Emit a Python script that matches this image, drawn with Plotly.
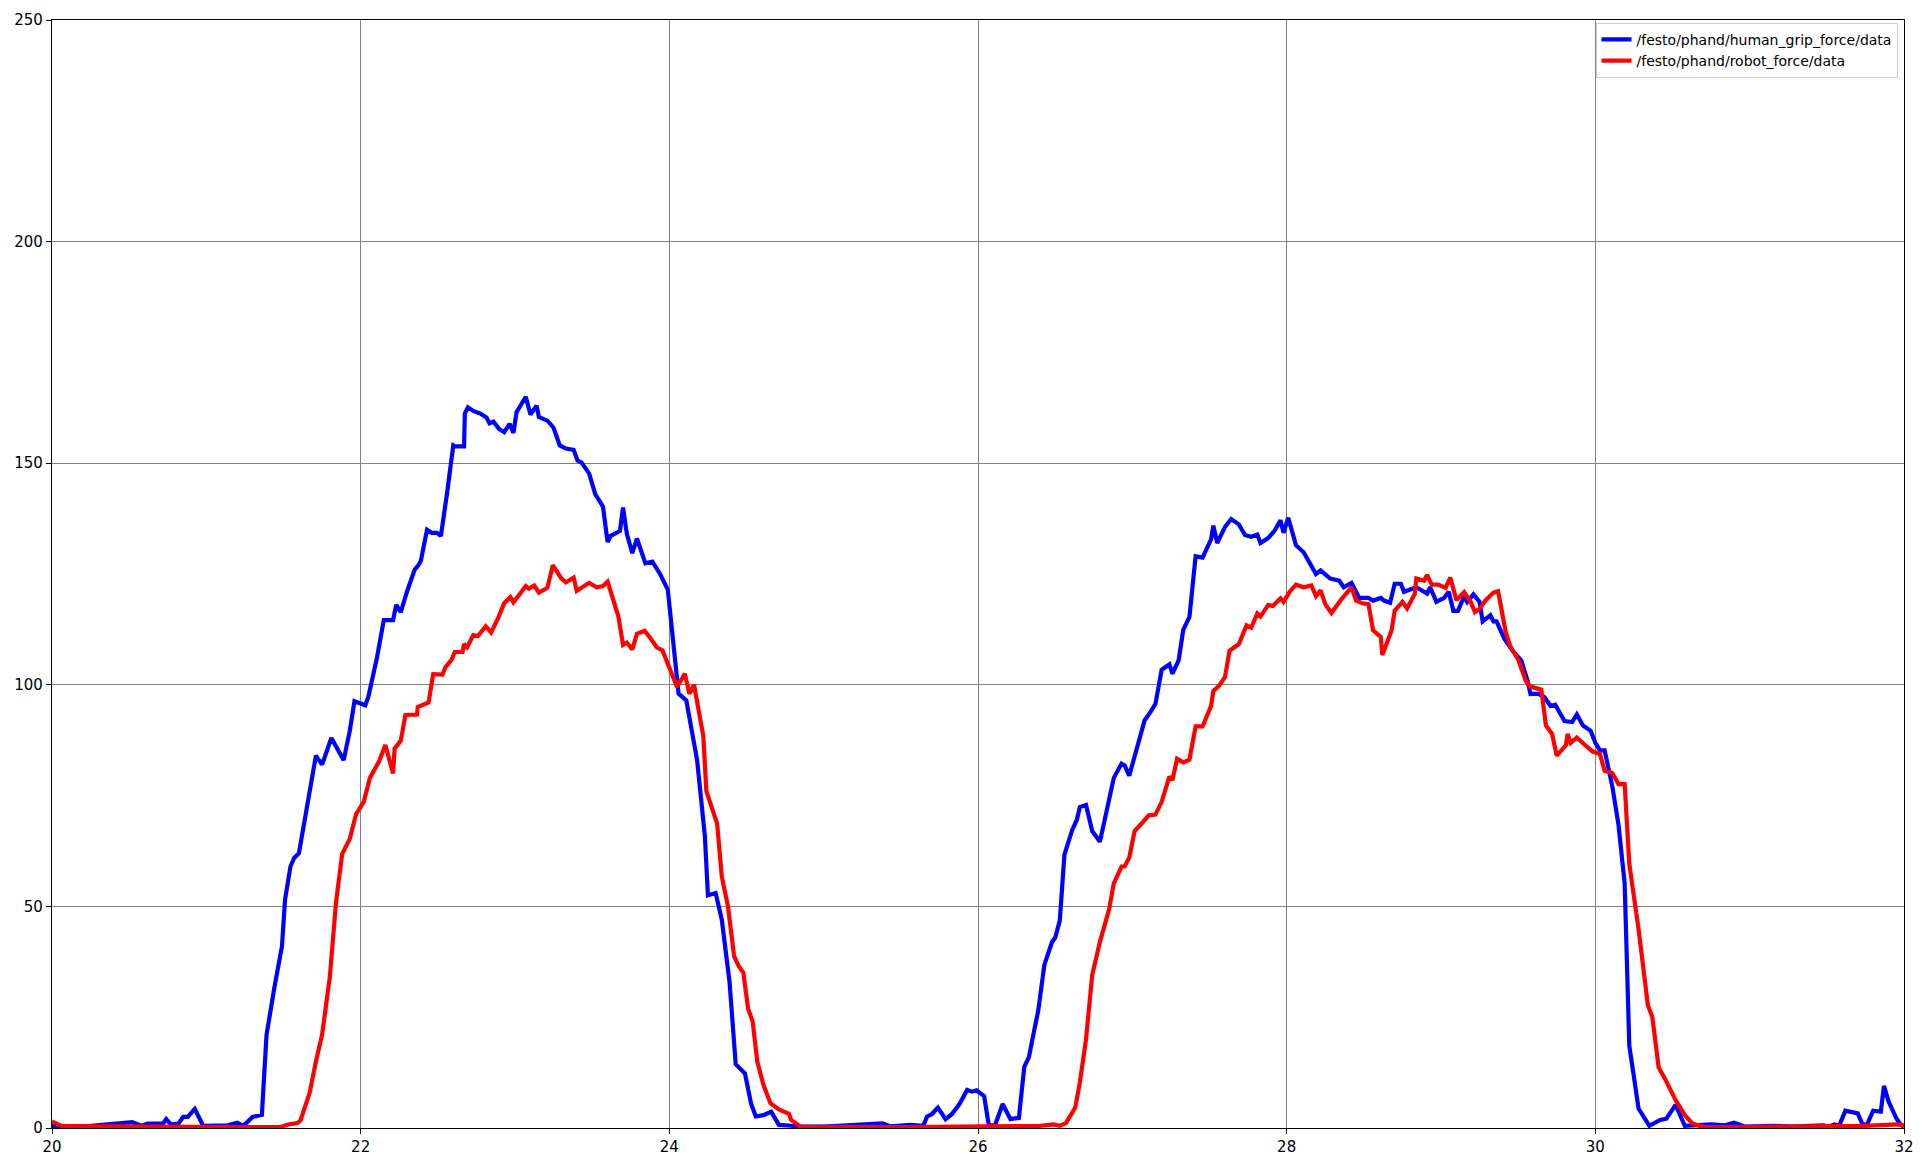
import plotly.graph_objects as go

# time stamps (s) and values
human_t = [20.00, 20.06, 20.20, 20.36, 20.42, 20.52, 20.58, 20.62, 20.72, 20.74, 20.77, 20.82, 20.85, 20.88,
           20.925, 20.98, 21.14, 21.20, 21.24, 21.30, 21.36, 21.39, 21.44, 21.49, 21.51, 21.545, 21.57, 21.60,
           21.64, 21.685, 21.71, 21.75, 21.81, 21.89, 21.93, 21.96, 22.03, 22.05, 22.105, 22.15, 22.21, 22.23,
           22.26, 22.30, 22.35, 22.375, 22.39, 22.43, 22.46, 22.495, 22.52, 22.56, 22.60, 22.61, 22.67, 22.675,
           22.695, 22.73, 22.775, 22.815, 22.835, 22.86, 22.895, 22.93, 22.965, 22.99, 23.01, 23.07, 23.10,
           23.14, 23.155, 23.21, 23.25, 23.29, 23.33, 23.38, 23.405, 23.43, 23.48, 23.52, 23.57, 23.60, 23.62,
           23.68, 23.70, 23.725, 23.76, 23.79, 23.845, 23.89, 23.94, 23.99, 24.02, 24.06, 24.11, 24.15, 24.18,
           24.23, 24.25, 24.30, 24.34, 24.39, 24.43, 24.49, 24.53, 24.56, 24.61, 24.66, 24.71, 24.79, 24.82,
           25.00, 25.30, 25.38, 25.43, 25.56, 25.645, 25.67, 25.70, 25.74, 25.79, 25.83, 25.88, 25.93, 25.96,
           25.99, 26.04, 26.07, 26.11, 26.16, 26.21, 26.265, 26.30, 26.33, 26.36, 26.39, 26.43, 26.48, 26.50,
           26.53, 26.56, 26.61, 26.64, 26.66, 26.70, 26.74, 26.79, 26.85, 26.88, 26.93, 26.95, 26.98, 27.04,
           27.08, 27.12, 27.15, 27.19, 27.24, 27.26, 27.30, 27.33, 27.37, 27.41, 27.455, 27.51, 27.525, 27.55,
           27.60, 27.64, 27.69, 27.73, 27.77, 27.81, 27.83, 27.88, 27.92, 27.96, 27.98, 28.01, 28.06, 28.11,
           28.16, 28.19, 28.22, 28.28, 28.34, 28.37, 28.42, 28.47, 28.53, 28.56, 28.61, 28.63, 28.67, 28.70,
           28.74, 28.76, 28.84, 28.91, 28.93, 28.97, 29.02, 29.05, 29.08, 29.11, 29.15, 29.17, 29.21, 29.25,
           29.27, 29.32, 29.34, 29.36, 29.41, 29.47, 29.52, 29.56, 29.58, 29.63, 29.67, 29.71, 29.74, 29.80,
           29.85, 29.88, 29.92, 29.97, 30.00, 30.03, 30.06, 30.11, 30.15, 30.19, 30.22, 30.28, 30.35, 30.42,
           30.46, 30.52, 30.58, 30.75, 30.84, 30.90, 30.97, 31.16, 31.27, 31.48, 31.51, 31.55, 31.58, 31.62,
           31.70, 31.73, 31.76, 31.80, 31.85, 31.87, 31.90, 31.95, 31.98, 32.00]
human_force = [0.5, 0.3, 0.3, 0.8, 1.0, 1.3, 0.5, 1.0, 1.0, 2.0, 0.8, 1.0, 2.5, 2.5,
               4.3, 0.5, 0.6, 1.2, 0.5, 2.5, 3.0, 21, 31.5, 41, 51.5, 59, 61, 62,
               70, 78.4, 84, 82, 88, 83, 89.7, 96.3, 95.4, 97.3, 106, 114.6, 114.6, 118,
               116.4, 121, 126, 127, 128, 135, 134.3, 134.3, 133.6, 143.3, 154, 153.8, 153.8, 161.2,
               162.6, 161.8, 161.2, 160.3, 159, 159.4, 157.8, 157, 158.9, 156.8, 161.5, 165, 161,
               163, 160.4, 159.6, 158, 154, 153.3, 153, 150.6, 150.2, 147.7, 143, 140.2, 132.2, 133.6,
               134.7, 140, 134, 129.7, 133, 127.4, 127.8, 125, 121.5, 110.6, 98, 96.5, 88.5, 83,
               66, 52.5, 53, 47, 33, 14.4, 12.3, 5.5, 2.6, 2.9, 3.7, 0.7, 0.5, 0.3,
               0.3, 0.9, 1.05, 0.4, 0.7, 0.5, 2.6, 3.1, 4.6, 2.0, 3.1, 5.4, 8.6, 8.2,
               8.5, 7.2, 0.6, 0.6, 5.4, 2.0, 2.3, 13.8, 16, 21.3, 26.4, 36.8, 42, 42.9,
               46.8, 61.7, 67.2, 69.5, 72.4, 72.9, 67, 64.6, 73.8, 79, 82.2, 81.8, 79.5, 86.8,
               92, 94, 95.7, 103.4, 104.6, 102.5, 105.5, 112.4, 115.3, 129, 128.7, 132.8, 135.9, 132,
               135.6, 137.4, 136.2, 133.8, 133.4, 133.9, 132, 133.1, 134.7, 137.1, 134.3, 137.7, 131.5, 129.9,
               127, 125, 125.8, 124, 123.5, 122, 123, 119.6, 119.6, 119, 119.6, 119, 118.5, 122.8,
               122.8, 121, 122, 120.6, 122, 118.7, 119.6, 121, 116.7, 116.7, 120, 118.7, 120.4, 118.7,
               114.3, 115.7, 114.3, 114.3, 110.4, 107.4, 105.5, 101, 97.9, 98, 97.2, 95.2, 95.5, 91.8,
               91.6, 93.3, 90.8, 89.6, 86.9, 85.2, 85.2, 77.1, 68.4, 55.2, 18.6, 4.4, 0.5, 1.8,
               2.1, 5.2, 0.5, 0.8, 0.6, 1.2, 0.3, 0.5, 0.3, 0.6, 0.3, 0.8, 0.5, 3.9,
               3.3, 0.9, 0.7, 3.9, 3.7, 9.5, 6.0, 2.2, 0.7, 0.3]

robot_t = [20.00, 20.06, 20.30, 20.60, 21.00, 21.48, 21.53, 21.59, 21.61, 21.67, 21.71, 21.75, 21.80, 21.84,
           21.88, 21.93, 21.97, 22.02, 22.06, 22.12, 22.16, 22.21, 22.22, 22.26, 22.29, 22.365, 22.37, 22.44,
           22.47, 22.53, 22.55, 22.59, 22.61, 22.66, 22.67, 22.69, 22.73, 22.76, 22.81, 22.845, 22.89, 22.93,
           22.97, 22.99, 23.07, 23.09, 23.125, 23.155, 23.21, 23.245, 23.30, 23.33, 23.38, 23.40, 23.48, 23.53,
           23.57, 23.60, 23.67, 23.70, 23.725, 23.76, 23.79, 23.84, 23.88, 23.92, 23.955, 24.00, 24.05, 24.10,
           24.13, 24.16, 24.22, 24.24, 24.27, 24.31, 24.34, 24.38, 24.42, 24.45, 24.48, 24.51, 24.54, 24.57,
           24.61, 24.655, 24.71, 24.775, 24.79, 24.85, 25.50, 26.40, 26.49, 26.53, 26.57, 26.63, 26.66, 26.70,
           26.74, 26.79, 26.85, 26.88, 26.93, 26.95, 26.98, 27.015, 27.06, 27.105, 27.15, 27.19, 27.24, 27.26,
           27.29, 27.33, 27.37, 27.41, 27.455, 27.51, 27.525, 27.56, 27.60, 27.63, 27.69, 27.74, 27.77, 27.81,
           27.83, 27.88, 27.91, 27.96, 27.98, 28.02, 28.06, 28.11, 28.16, 28.19, 28.22, 28.25, 28.29, 28.35,
           28.42, 28.45, 28.49, 28.53, 28.56, 28.61, 28.62, 28.68, 28.70, 28.75, 28.78, 28.83, 28.84, 28.89,
           28.91, 28.94, 28.98, 29.03, 29.06, 29.10, 29.15, 29.19, 29.22, 29.25, 29.29, 29.34, 29.37, 29.42,
           29.45, 29.50, 29.55, 29.58, 29.65, 29.68, 29.72, 29.75, 29.81, 29.82, 29.84, 29.88, 29.94, 29.98,
           30.03, 30.06, 30.11, 30.15, 30.19, 30.22, 30.28, 30.34, 30.37, 30.41, 30.45, 30.52, 30.58, 30.63,
           30.70, 31.00, 31.50, 31.75, 31.95, 32.00]
robot_force = [1.5, 0.5, 0.4, 0.3, 0.3, 0.2, 0.8, 1.1, 1.7, 8, 15, 21, 34, 50.8,
               61.8, 65.3, 70.8, 73.6, 79, 82.8, 86.4, 80, 85.6, 87.4, 93.2, 93.3, 95, 96,
               102.4, 102.3, 104, 105.7, 107.4, 107.4, 109.2, 108.5, 111.2, 111, 113.2, 111.8, 115, 118.4,
               119.8, 118.6, 122.3, 121.7, 122.4, 120.8, 121.9, 127, 124, 123.1, 124.2, 121.2, 123, 122,
               122.3, 123.3, 115.4, 109, 109.5, 108, 111.5, 112.2, 110.4, 108.4, 107.8, 104, 99.5, 102.5,
               98, 100, 88.5, 76, 72.7, 68.6, 56.7, 50, 38.7, 36.5, 35, 27, 24, 15,
               9.7, 5.6, 4.2, 3.2, 1.8, 0.3, 0.2, 0.5, 0.8, 0.5, 1.1, 4.6, 10.3, 20,
               34.5, 42, 49.4, 55.2, 59, 59, 61, 67, 68.7, 70.5, 70.7, 73.6, 79.3, 78.5,
               83.3, 82.5, 83.1, 90.6, 90.6, 95.2, 98.6, 99.7, 101.7, 107.7, 109.2, 113.4, 112.9, 116.1,
               115.4, 118, 117.8, 119.5, 118.7, 121, 122.6, 122, 122.4, 120, 121.3, 118.2, 116.2, 119.1,
               122, 119, 118.4, 118.2, 112.3, 110.8, 106.7, 112.3, 116.7, 118.7, 117.2, 120.5, 124, 123.5,
               124.8, 122.6, 122.6, 121.9, 124.2, 119.1, 120.9, 118.9, 116.4, 117.2, 119.1, 120.8, 121.1, 111.8,
               108.6, 105.7, 100.8, 99.6, 98.9, 90.8, 88.9, 84, 86.4, 88.9, 86.9, 88.1, 86.2, 85,
               84.4, 80.6, 80.1, 77.6, 77.6, 59.6, 44.9, 27.8, 24.9, 13.7, 11.2, 6.3, 2.9, 1.0,
               0.2, 0.3, 0.3, 0.5, 0.8, 0.6]

fig = go.Figure()
fig.add_trace(go.Scatter(x=human_t, y=human_force, mode="lines",
                         name="/festo/phand/human_grip_force/data",
                         line=dict(color="#0000ff", width=4.2)))
fig.add_trace(go.Scatter(x=robot_t, y=robot_force, mode="lines",
                         name="/festo/phand/robot_force/data",
                         line=dict(color="#ff0000", width=4.2)))

axis_style = dict(showline=True, linecolor="black", linewidth=1.3, mirror=True,
                  showgrid=True, gridcolor="#808080", gridwidth=1,
                  ticks="outside", ticklen=5, tickcolor="black", zeroline=False,
                  automargin=False,
                  tickfont=dict(family="DejaVu Sans", size=15, color="black"))

# the page body keeps its default 8px margin, so the figure is a bit smaller than the window
fig.update_layout(
    width=1906, height=1151,
    margin=dict(l=44, r=10, t=12, b=31),
    plot_bgcolor="white", paper_bgcolor="white",
    font=dict(family="DejaVu Sans", size=14, color="black"),
    xaxis=dict(range=[20, 32], dtick=2, tick0=20, **axis_style),
    yaxis=dict(range=[0, 250], dtick=50, tick0=0, **axis_style),
    legend=dict(x=0.9965, y=0.9975, xanchor="right", yanchor="top",
                bgcolor="rgba(255,255,255,0.8)", bordercolor="#cccccc", borderwidth=1,
                font=dict(family="DejaVu Sans", size=14, color="black"),
                tracegroupgap=0),
    showlegend=True,
)

fig.write_html("out.html")
